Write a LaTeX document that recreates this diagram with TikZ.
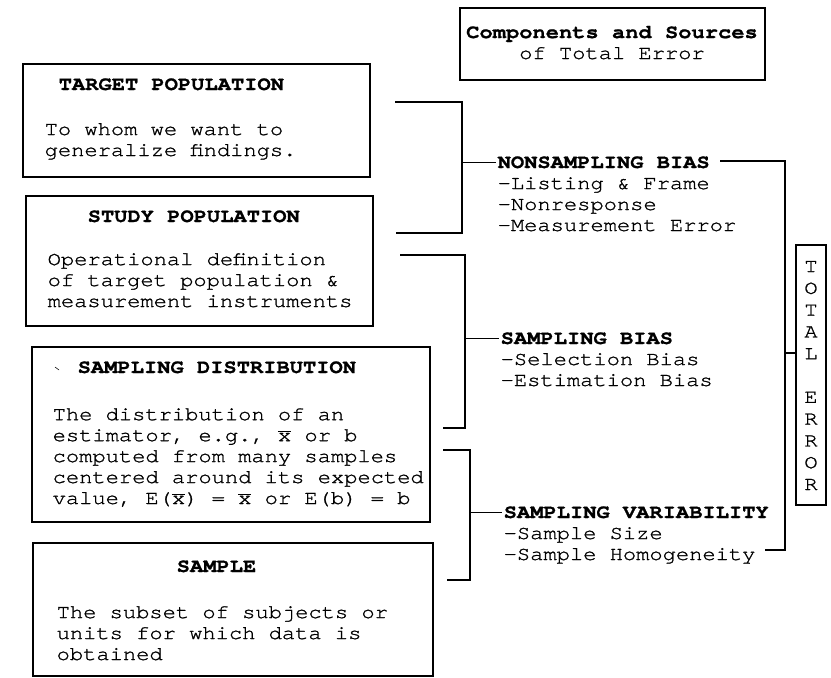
\documentclass[tikz,border=0pt]{standalone}
\usepackage{fontspec}
\setmonofont{texgyrecursor}[Extension=.otf,UprightFont=*-regular,BoldFont=*-bold,FakeStretch=1.13,
  UprightFeatures={FakeBold=1.2},BoldFeatures={FakeBold=1}]
\usepackage{tikz}
\usetikzlibrary{positioning,fit}
\newcommand\twfont{\fontsize{13.9pt}{14.9pt}\selectfont\ttfamily}
\newcommand\xbar{$\overline{\hbox{x}}$}
\tikzset{
  box/.style={draw,line width=1pt,inner sep=0pt},
  txt/.style={font=\twfont,inner sep=1pt,align=left,anchor=base west},
  head/.style={txt,font=\twfont\bfseries},
  line/.style={line width=1pt},
}

\begin{document}
\begin{tikzpicture}[x=0.025cm,y=-0.025cm]
  \useasboundingbox (0,0) rectangle (831,678);
  % title
  \node[box,fit={(460,8) (765,80)}] (title) {};
  \node[txt,align=center,anchor=base] (title-text) at (612,59)
    {\textbf{Components and Sources}\\of Total Error};
  % target population
  \node[box,fit={(23,64) (370,177)}] (target) {};
  \node[head] (target-head) at (57,90) {TARGET POPULATION};
  \node[txt] (target-text) at (43,156) {To whom we want to\\generalize findings.};
  % study population
  \node[box,fit={(26,196) (373,326)}] (study) {};
  \node[head] (study-head) at (86,222) {STUDY POPULATION};
  \node[txt] (study-text) at (46,307)
    {Operational definition\\of target population \&\\measurement instruments};
  % sampling distribution
  \node[box,fit={(32,347) (430,522)}] (sdist) {};
  \draw[thin] (55,367) -- (59,370);
  \node[head] (sdist-head) at (76,373) {SAMPLING DISTRIBUTION};
  \node[txt] (sdist-text) at (51,504)
    {The distribution of an\\estimator, e.g., \xbar{} or b\\computed from many samples\\centered around its expected\\value, E(\xbar) = \xbar{} or E(b) = b};
  % sample
  \node[box,fit={(33,543) (433,676)}] (sample) {};
  \node[head] (sample-head) at (175,572) {SAMPLE};
  \node[txt] (sample-text) at (55,660)
    {The subset of subjects or\\units for which data is\\obtained};
  % sources of error
  \node[head] (nsb-head) at (496,168) {NONSAMPLING BIAS};
  \node[txt] (nsb-text) at (496,231) {-Listing \& Frame\\-Nonresponse\\-Measurement Error};
  \node[head] (sb-head) at (499,344) {SAMPLING BIAS};
  \node[txt] (sb-text) at (499,386) {-Selection Bias\\-Estimation Bias};
  \node[head] (sv-head) at (502,518) {SAMPLING VARIABILITY};
  \node[txt] (sv-text) at (502,560) {-Sample Size\\-Sample Homogeneity};
  % total error
  \node[box,fit={(796,245) (826,505)}] (total) {};
  \node[txt,align=center,anchor=base,font=\twfont\fontsize{13.9pt}{15.5pt}\selectfont]
    (total-text) at (811,490) {T\\O\\T\\A\\L\\[15.5pt]E\\R\\R\\O\\R};
  % brackets
  \coordinate (b1-top) at (395,102);
  \coordinate (b1-corner) at (462,233);
  \coordinate (b1-bot) at (396,233);
  \draw[line] (b1-top) -| (b1-corner) -- (b1-bot);
  \draw[line] (b1-corner |- nsb-head.west) -- (nsb-head.west);
  \coordinate (b2-top) at (400,255);
  \coordinate (b2-corner) at (465,428);
  \coordinate (b2-bot) at (443,428);
  \draw[line] (b2-top) -| (b2-corner) -- (b2-bot);
  \draw[line] (b2-corner |- sb-head.west) -- (sb-head.west);
  \coordinate (b3-top) at (443,450);
  \coordinate (b3-corner) at (470,580);
  \coordinate (b3-bot) at (447,580);
  \draw[line] (b3-top) -| (b3-corner) -- (b3-bot);
  \draw[line] (b3-corner |- sv-head.west) -- (sv-head.west);
  % right side
  \coordinate (r-top) at (720,161);
  \coordinate (r-corner) at (785,550);
  \coordinate (r-bot) at (765,550);
  \coordinate (total-in) at (796,353);
  \draw[line] (r-top) -| (r-corner) -- (r-bot);
  \draw[line] (r-corner |- total-in) -- (total-in);
\end{tikzpicture}
\end{document}
